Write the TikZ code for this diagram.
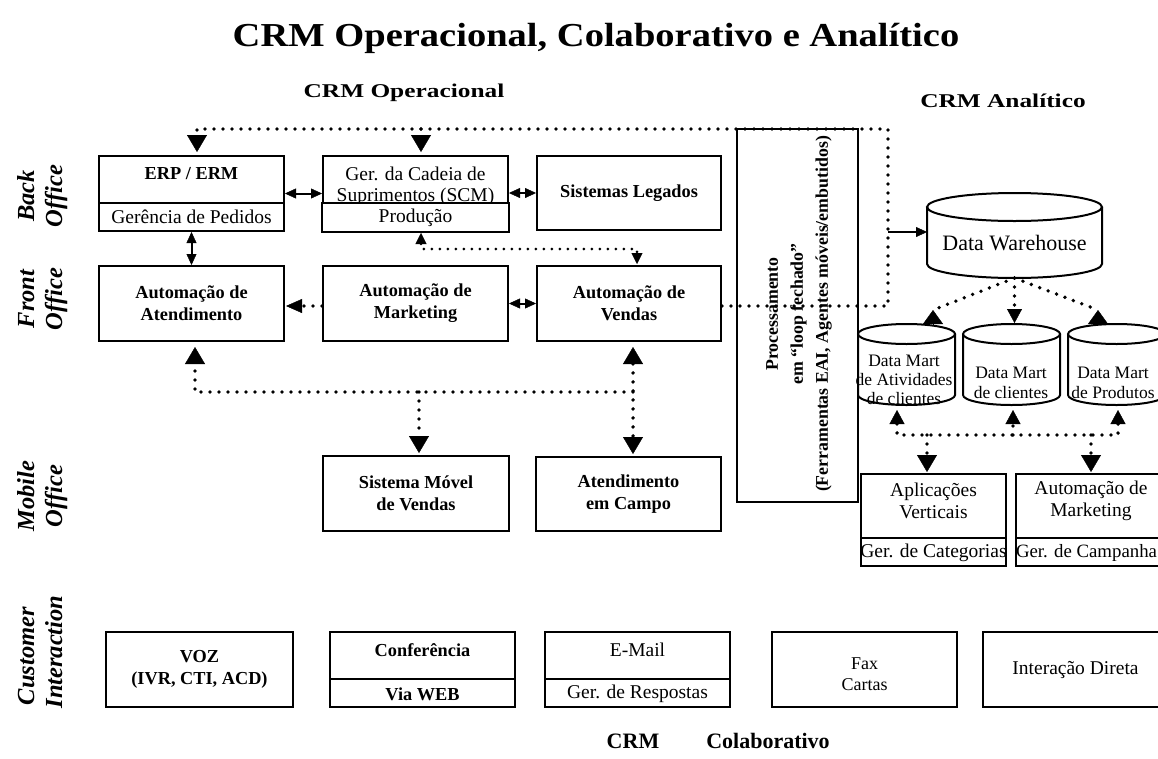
\documentclass[tikz,border=0pt]{standalone}
\usepackage{fontspec}
\setmainfont{Liberation Serif}
\newfontfamily\widehead[FakeStretch=1.3]{Liberation Serif}
\newfontfamily\titlehead[FakeStretch=1.15]{Liberation Serif}
\usetikzlibrary{arrows.meta}

% database cylinder: name, left, right, top, bottom, cap half-height
\newcommand\dbcyl[6]{%
  \node[inner sep=0pt, outer sep=0pt, minimum width={(#3-#2)*1pt},
        minimum height={(#5-#4)*1pt}] (#1) at ({(#2+#3)/2},{(#4+#5)/2}) {};
  \draw[line width=2pt] ({(#2+#3)/2},{#4+#6})
        ellipse [x radius={(#3-#2)/2*1pt}, y radius=#6pt];
  \draw[line width=2pt] (#2,{#4+#6}) -- (#2,{#5-#6})
        arc [start angle=180, end angle=360, x radius={(#3-#2)/2*1pt}, y radius=#6pt]
        -- (#3,{#4+#6});
}

\tikzset{
  TB/.tip={Triangle[length=17pt,width=20pt,line width=0.4pt]},
  TU/.tip={Triangle[length=14pt,width=20pt,line width=0.4pt]},
  TM/.tip={Triangle[length=14pt,width=15pt,line width=0.4pt]},
  TL/.tip={Triangle[length=16pt,width=14pt,line width=0.4pt]},
  TS/.tip={Triangle[length=11pt,width=11pt,line width=0.4pt]},
  TD/.tip={Triangle[length=11pt,width=10pt,line width=0.4pt]},
}

\begin{document}
\begin{tikzpicture}[x=1pt,y=-1pt,
  box/.style={draw, line width=2pt, inner sep=0pt, align=center},
  rg/.style={font=\fontsize{19.5}{22}\selectfont},
  bd/.style={font=\fontsize{18.3}{22}\selectfont\bfseries},
  txt/.style={inner sep=0pt, align=center},
  lay/.style={rotate=90, anchor=base, inner sep=0pt,
              font=\fontsize{24.5}{28}\selectfont\bfseries\itshape},
  dotl/.style={line width=3.8pt, dash pattern=on 0pt off 9pt, line cap=round},
  dotsm/.style={line width=3pt, dash pattern=on 0pt off 8pt, line cap=round},
  dbl/.style={line width=2pt, TD-TD},
]
\useasboundingbox (0,0) rectangle (1158,758);
\clip (0,0) rectangle (1158,758);

% headings
\node[txt, anchor=base, font=\titlehead\fontsize{33.5}{36}\selectfont\bfseries]
  (title) at (596,46) {CRM Operacional, Colaborativo e Analítico};
\node[txt, anchor=base, font=\widehead\fontsize{19.5}{22}\selectfont\bfseries]
  (hop) at (404,97) {CRM Operacional};
\node[txt, anchor=base, font=\widehead\fontsize{19.5}{22}\selectfont\bfseries]
  (han) at (1003,107) {CRM Analítico};
\node[txt, anchor=base, font=\fontsize{22}{24}\selectfont\bfseries]
  (fcrm) at (633,748) {CRM};
\node[txt, anchor=base, font=\fontsize{22}{24}\selectfont\bfseries]
  (fcol) at (768,748) {Colaborativo};

% layer labels
\node[lay] (lb1) at (34,196) {Back};
\node[lay] (lb2) at (62,196) {Office};
\node[lay] (lf1) at (34,299) {Front};
\node[lay] (lf2) at (62,299) {Office};
\node[lay] (lm1) at (34,496) {Mobile};
\node[lay] (lm2) at (62,496) {Office};
\node[lay] (lc1) at (34,656) {Customer};
\node[lay] (lc2) at (62,652) {Interaction};

% back office
\node[box, minimum width=185pt, minimum height=75pt] (ERP) at (191.5,193.5) {};
\draw[line width=2pt] (ERP.west |- 0,203) -- (ERP.east |- 0,203);
\node[txt, bd] (erp1) at (191.5,174) {ERP / ERM};
\node[txt, rg] (erp2) at (191.5,217) {Gerência de Pedidos};

\node[box, minimum width=185pt, minimum height=75pt] (Ger) at (415.5,193.5) {};
\node[txt, rg] (ger1) at (415.5,174) {Ger. da Cadeia de};
\node[txt, rg, anchor=base] (ger2) at (415.5,201) {Suprimentos (SCM)};
\filldraw[fill=white, line width=2pt] (Ger.south west) rectangle (Ger.east |- 0,203);
\node[txt, rg] (ger3) at (415.5,218) {Produção};

\node[box, bd, minimum width=184pt, minimum height=74pt] (Leg) at (629,193) {Sistemas Legados};

% front office
\node[box, bd, minimum width=185pt, minimum height=75pt] (Aten) at (191.5,303.5) {Automação de\\Atendimento};
\node[box, bd, minimum width=185pt, minimum height=75pt] (Mkt) at (415.5,303.5) {Automação de\\Marketing};
\node[box, bd, minimum width=184pt, minimum height=75pt] (Vend) at (629,303.5) {Automação de\\Vendas};

% mobile office
\node[box, bd, minimum width=186pt, minimum height=75pt] (Movel) at (416,493.5) {Sistema Móvel\\de Vendas};
\node[box, bd, minimum width=185pt, minimum height=74pt] (Campo) at (628.5,494) {Atendimento\\em Campo};

% closed loop processing
\node[box, minimum width=121pt, minimum height=373pt] (Proc) at (797.5,315.5) {};
\node[txt, rotate=90, font=\fontsize{17.8}{25}\selectfont\bfseries] (proct) at (799,314)
  {Processamento\\em “loop fechado”\\(Ferramentas EAI, Agentes móveis/embutidos)};

% customer interaction
\node[box, bd, minimum width=187pt, minimum height=75pt] (VOZ) at (199.5,669.5) {VOZ\\(IVR, CTI, ACD)};
\node[box, minimum width=185pt, minimum height=75pt] (Conf) at (422.5,669.5) {};
\draw[line width=2pt] (Conf.west |- 0,679) -- (Conf.east |- 0,679);
\node[txt, bd] (conf1) at (422.5,650) {Conferência};
\node[txt, bd] (conf2) at (422.5,694) {Via WEB};
\node[box, minimum width=185pt, minimum height=75pt] (Email) at (637.5,669.5) {};
\draw[line width=2pt] (Email.west |- 0,679) -- (Email.east |- 0,679);
\node[txt, rg] (mail1) at (637.5,650) {E-Mail};
\node[txt, rg] (mail2) at (637.5,694) {Ger. de Respostas};
\node[box, minimum width=185pt, minimum height=75pt] (Fax) at (864.5,669.5) {};
\node[txt, font=\fontsize{18}{21}\selectfont] (faxt) at (864.5,674) {Fax\\Cartas};
\node[box, rg, minimum width=185pt, minimum height=75pt] (Direta) at (1075.5,669.5) {Interação Direta};

% analytical side
\dbcyl{DW}{927}{1102}{193}{278}{14}
\node[txt, font=\fontsize{22}{24}\selectfont] (dwt) at (1014.5,243) {Data Warehouse};
\dbcyl{DMa}{858}{955}{324}{405}{10}
\dbcyl{DMb}{963}{1060}{324}{405}{10}
\dbcyl{DMc}{1068}{1165}{324}{405}{10}
\node[txt, font=\fontsize{17.5}{19}\selectfont] (dmat) at (904,380) {Data Mart\\de Atividades\\de clientes};
\node[txt, font=\fontsize{17.5}{20}\selectfont] (dmbt) at (1011,383) {Data Mart\\de clientes};
\node[txt, font=\fontsize{17.5}{20}\selectfont] (dmct) at (1113,383) {Data Mart\\de Produtos};

\node[box, minimum width=145pt, minimum height=92pt] (Apl) at (933.5,520) {};
\draw[line width=2pt] (Apl.west |- 0,538) -- (Apl.east |- 0,538);
\node[txt, rg] (apl1) at (933.5,501) {Aplicações\\Verticais};
\node[txt, rg] (apl2) at (933.5,553) {Ger. de Categorias};
\node[box, minimum width=150pt, minimum height=92pt] (AMk) at (1091,520) {};
\draw[line width=2pt] (AMk.west |- 0,538) -- (AMk.east |- 0,538);
\node[txt, rg] (amk1) at (1091,501) {Automação de\\Marketing};
\node[txt, font=\fontsize{18.8}{22}\selectfont] (amk2) at (1086.5,553) {Ger. de Campanha};

% ---- connectors ----
\coordinate (tl) at (197,129);
\coordinate (tg) at (421,129);
\coordinate (tr) at (888,129);
\coordinate (mr) at (888,306);
\coordinate (dwin) at (888,232);
\draw[dotl, -TB, shorten >=3pt] (mr -| Vend.east) -- (mr) -- (tr) -- (tl) -- (tl |- ERP.north);
\draw[dotl, -TB, shorten >=3pt] (tg) -- (tg |- Ger.north);
\draw[line width=2pt, -TD] (dwin) -- (dwin -| DW.west);

\draw[dbl] (ERP.east) -- (Ger.west);
\draw[dbl] (Ger.east |- Leg.east) -- (Leg.west);
\draw[dbl] (ERP.south) -- (Aten.north);
\draw[dbl] (Mkt.east) -- (Vend.west);
\draw[dotl, -TL, shorten >=1pt] (Mkt.west |- 0,306) -- (Aten.east |- 0,306);

\coordinate (pl) at (421,249);
\coordinate (pr) at (637,249);
\draw[dotsm, TS-TS, shorten <=1pt, shorten >=1pt] (pl |- Ger.south) -- (pl) -- (pr) -- (pr |- Vend.north);

\coordinate (bl) at (195,392);
\coordinate (bm) at (419,392);
\coordinate (br) at (633,392);
\draw[dotl, -TB, shorten >=5pt] (br) -- (bl) -- (bl |- Aten.south);
\draw[dotl, TB-TB, shorten <=5pt, shorten >=2pt] (br |- Vend.south) -- (br |- Campo.north);
\draw[dotl, -TB, shorten >=2pt] (bm) -- (bm |- Movel.north);

% data warehouse to data marts
\coordinate (ua) at (933,310);
\coordinate (uc) at (1098,310);
\draw[dotl] (DW.south) -- (ua);
\draw[line width=0.4pt, TU-] (ua) -- (ua |- DMa.north);
\draw[dotl] (DW.south) -- (uc);
\draw[line width=0.4pt, TU-] (uc) -- (uc |- DMc.north);
\draw[dotl, -TM, shorten >=1pt] (DW.south) -- (DW.south |- DMb.north);

% data marts to applications
\coordinate (h1) at (897,435);
\coordinate (h2) at (1013,435);
\coordinate (h3) at (1118,435);
\coordinate (ha) at (927,435);
\coordinate (hb) at (1091,435);
\draw[dotl, TM-TM, shorten <=5pt, shorten >=5pt] (h1 |- DMa.south) -- (h1) -- (h3) -- (h3 |- DMc.south);
\draw[dotl, -TM, shorten >=5pt] (h2) -- (h2 |- DMb.south);
\draw[dotl, -TB, shorten >=1pt] (ha) -- (ha |- Apl.north);
\draw[dotl, -TB, shorten >=1pt] (hb) -- (hb |- AMk.north);
\end{tikzpicture}
\end{document}
